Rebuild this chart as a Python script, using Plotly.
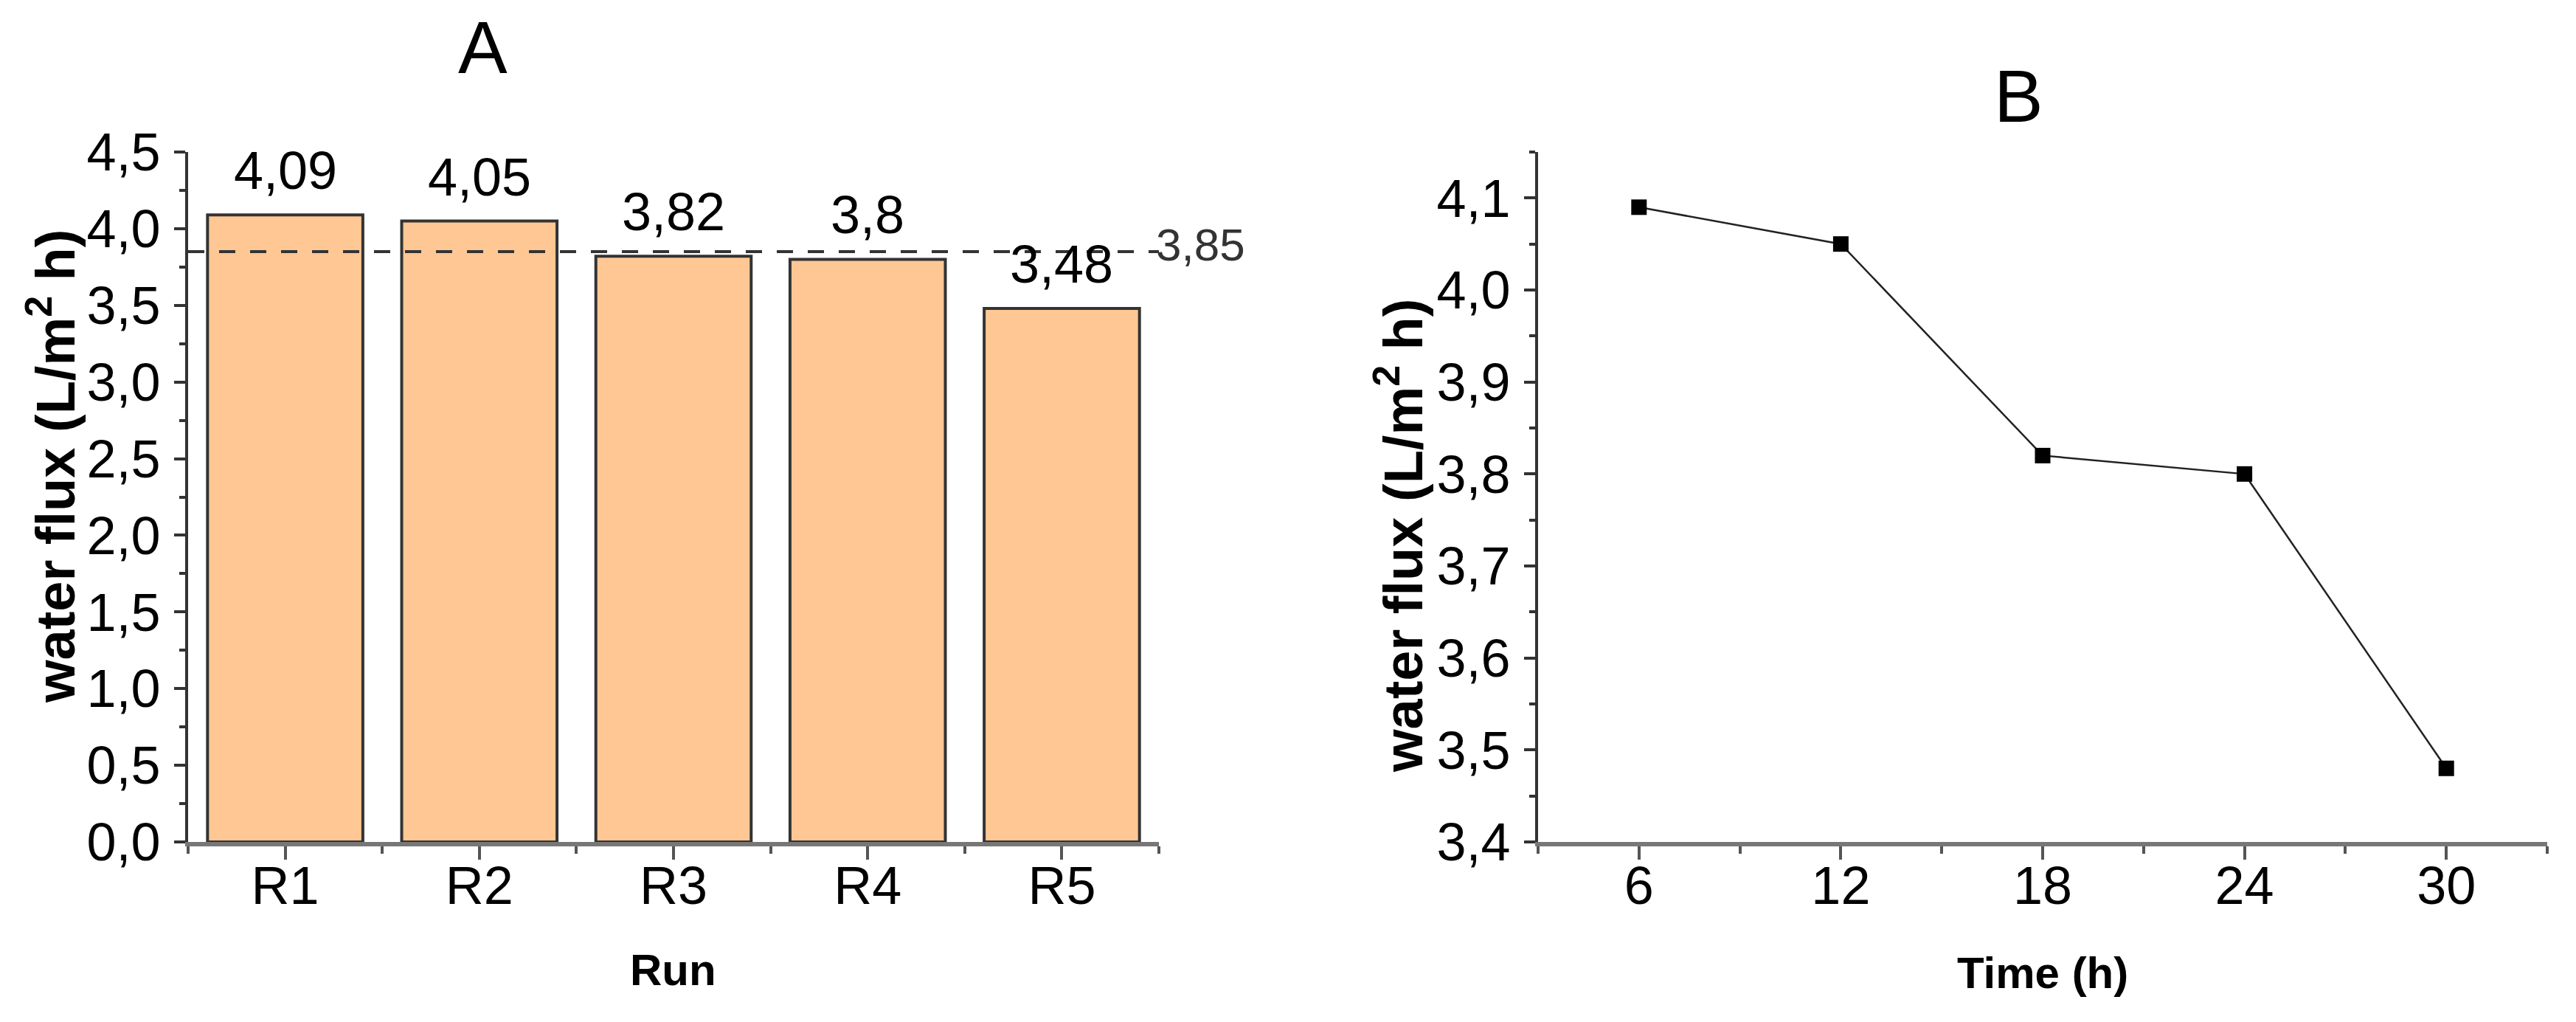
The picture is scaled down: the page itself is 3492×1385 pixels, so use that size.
import plotly.graph_objects as go

# ---- data ----
runs = ["R1", "R2", "R3", "R4", "R5"]
run_flux = [4.09, 4.05, 3.82, 3.8, 3.48]
mean_flux = 3.85

time_h = [6, 12, 18, 24, 30]
time_flux = [4.09, 4.05, 3.82, 3.8, 3.48]

FONT = "Liberation Sans, Arial, sans-serif"
W, H = 3492, 1385

def px(x):
    return x / W

def py(y):
    return 1 - y / H

idx = list(range(len(runs)))

fig = go.Figure()
fig.add_trace(go.Bar(
    x=idx, y=run_flux, width=0.8, xaxis="x", yaxis="y",
    marker=dict(color="#FEC794", line=dict(color="#333333", width=4)),
    hoverinfo="skip",
))
fig.add_trace(go.Scatter(
    x=time_h, y=time_flux, xaxis="x2", yaxis="y2", mode="lines+markers",
    line=dict(color="#222222", width=2.5),
    marker=dict(symbol="square", size=21, color="black"),
))

# mean dashed line
fig.add_shape(type="line", xref="x", yref="y", x0=-0.5, x1=len(runs) - 0.5,
              y0=mean_flux, y1=mean_flux,
              line=dict(color="#333333", width=4, dash="22px,20px"))

ann = []
for i, v in zip(idx, run_flux):
    ann.append(dict(x=i, y=v, xref="x", yref="y", text=str(v).replace(".", ","),
                    showarrow=False, xanchor="center", yanchor="bottom", yshift=18,
                    font=dict(size=72, color="black", family=FONT)))
ann.append(dict(x=len(runs) - 0.5, y=mean_flux, xref="x", yref="y",
                text=str(mean_flux).replace(".", ","), showarrow=False,
                xanchor="left", yanchor="middle", xshift=-6, yshift=10,
                font=dict(size=62, color="#333333", family=FONT)))
# panel titles
ann.append(dict(x=px(646), y=py(56), xref="paper", yref="paper", text="A",
                xanchor="center", yanchor="middle",
                showarrow=False, font=dict(size=100, color="black", family=FONT)))
ann.append(dict(x=px(2728), y=py(122), xref="paper", yref="paper", text="B",
                xanchor="center", yanchor="middle",
                showarrow=False, font=dict(size=100, color="black", family=FONT)))
# axis titles
ann.append(dict(x=px(904), y=py(1306), xref="paper", yref="paper", text="<b>Run</b>",
                xanchor="center", yanchor="middle",
                showarrow=False, font=dict(size=60, color="black", family=FONT)))
ann.append(dict(x=px(2761), y=py(1310), xref="paper", yref="paper", text="<b>Time (h)</b>",
                xanchor="center", yanchor="middle",
                showarrow=False, font=dict(size=60, color="black", family=FONT)))
ann.append(dict(x=px(62), y=py(624), xref="paper", yref="paper",
                text="<b>water flux (L/m<sup>2</sup> h)</b>", textangle=-90,
                xanchor="center", yanchor="middle",
                showarrow=False, font=dict(size=74, color="black", family=FONT)))
ann.append(dict(x=px(1889), y=py(718), xref="paper", yref="paper",
                text="<b>water flux (L/m<sup>2</sup> h)</b>", textangle=-90,
                xanchor="center", yanchor="middle",
                showarrow=False, font=dict(size=74, color="black", family=FONT)))

tickfont = dict(size=72, color="black", family=FONT)
common_y = dict(ticks="outside", ticklen=15, tickwidth=4, tickcolor="#333333",
                showline=True, linecolor="#333333", linewidth=4, showgrid=False,
                zeroline=False, tickformat=".1f", tickfont=tickfont, automargin=False,
                ticklabelstandoff=4)
common_x = dict(ticks="outside", ticklen=18, tickwidth=4, tickcolor="#555555",
                showline=True, linecolor="#777777", linewidth=6, showgrid=False,
                zeroline=False, tickfont=tickfont, automargin=False,
                ticklabelstandoff=-26)

fig.update_layout(
    width=W, height=H, margin=dict(l=0, r=0, t=0, b=0),
    paper_bgcolor="white", plot_bgcolor="white", showlegend=False,
    separators=",.", font=dict(family=FONT, color="black"),
    annotations=ann,
    xaxis=dict(domain=[px(247), px(1563)], anchor="y", range=[-0.5, len(runs) - 0.5],
               tickmode="array", tickvals=idx, ticktext=runs,
               minor=dict(tickmode="linear", tick0=0.5, dtick=1, ticks="outside",
                          ticklen=10, tickwidth=4, tickcolor="#555555", showgrid=False),
               **common_x),
    yaxis=dict(domain=[py(1133), py(198)], anchor="x", range=[0, 4.5], dtick=0.5, tick0=0,
               minor=dict(dtick=0.25, tick0=0, ticks="outside", ticklen=8, tickwidth=4,
                          tickcolor="#333333", showgrid=False),
               **common_y),
    xaxis2=dict(domain=[px(2077), px(3445)], anchor="y2", range=[3, 33], dtick=6, tick0=0,
                minor=dict(tick0=3, dtick=3, ticks="outside", ticklen=10, tickwidth=4,
                           tickcolor="#555555", showgrid=False),
                **common_x),
    yaxis2=dict(domain=[py(1133), py(198)], anchor="x2", range=[3.4, 4.15], dtick=0.1, tick0=0,
                minor=dict(dtick=0.05, tick0=0, ticks="outside", ticklen=8, tickwidth=4,
                           tickcolor="#333333", showgrid=False),
                **common_y),
)

fig.write_html("out.html")
